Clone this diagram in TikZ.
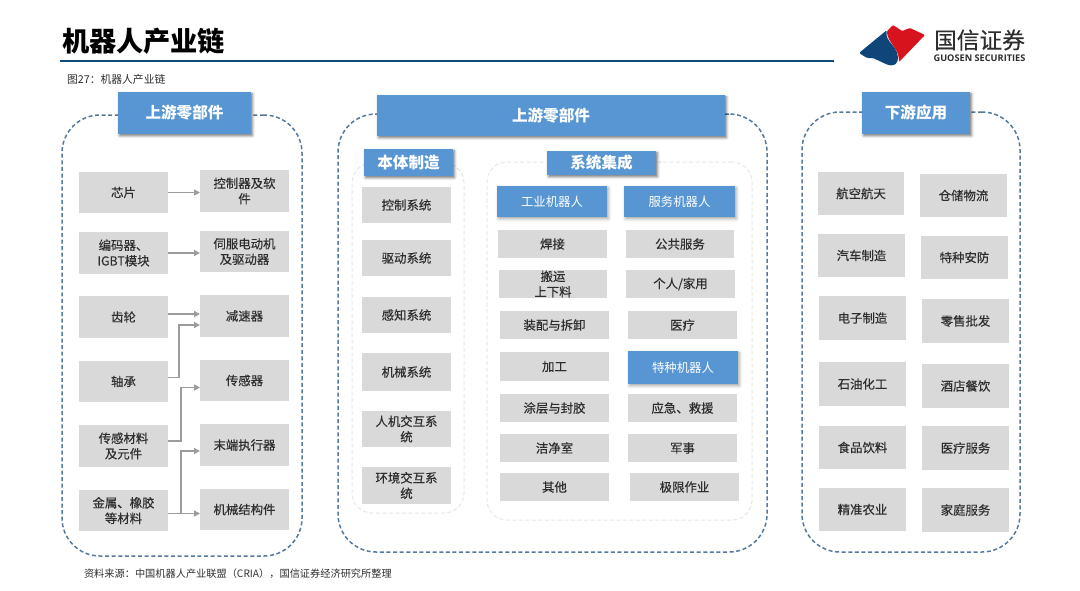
\documentclass[tikz,border=0pt]{standalone}
\usepackage{fontspec}
\setmainfont{Noto Sans CJK SC}
\newfontfamily\cjkheavy[FakeBold=0.35]{Noto Sans CJK SC}
\newfontfamily\latinbold{Open Sans}
\usetikzlibrary{arrows.meta,calc,shadows.blur}
\definecolor{boxgray}{HTML}{D9D9D9}
\definecolor{headblue}{HTML}{5796D3}
\definecolor{dashblue}{HTML}{557A9C}
\definecolor{innerdash}{HTML}{E6E6E6}
\definecolor{txt}{HTML}{2E2E2E}
\definecolor{navy}{HTML}{0F4C7A}
\definecolor{logored}{HTML}{D7141E}
\definecolor{logoblue}{HTML}{0F4578}
\definecolor{conn}{HTML}{9C9C9C}
\tikzset{
  base/.style={inner sep=0pt,outer sep=0pt,align=center},
  gbox/.style={base,fill=boxgray,text=txt,font=\fontsize{12.4}{15.5}\cjkheavy},
  hbig/.style={base,fill=headblue,text=white,font=\fontsize{15.6}{18}\selectfont\bfseries,
     blur shadow={shadow xshift=1.5pt,shadow yshift=-1.8pt,shadow blur radius=2.5pt,shadow opacity=55}},
  hsub/.style={base,fill=headblue,text=white,font=\fontsize{12.4}{15}\selectfont,
     blur shadow={shadow xshift=1.5pt,shadow yshift=-1.8pt,shadow blur radius=3pt,shadow opacity=35}},
  panel/.style={base,draw=dashblue,line width=1.5pt,dash pattern=on 4pt off 2.6pt,rounded corners=38pt},
  inner/.style={base,draw=innerdash,line width=1pt,dash pattern=on 4pt off 2.5pt,rounded corners=20pt},
  link/.style={draw=conn,line width=1.5pt,-{Triangle[length=6pt,width=6pt]}},
  label/.style={inner sep=0pt,outer sep=0pt,anchor=west},
}
\newcommand{\bx}[7]{%
  \pgfmathsetmacro{\cxv}{(#3+#5)/2}\pgfmathsetmacro{\cyv}{(#4+#6)/2}%
  \pgfmathsetmacro{\wv}{#5-#3}\pgfmathsetmacro{\hv}{#6-#4}%
  \node[#1,minimum width=\wv pt,minimum height=\hv pt] (#2) at (\cxv,\cyv) {#7};}
\begin{document}
\begin{tikzpicture}[x=1pt,y=-1pt]
\useasboundingbox (0,0) rectangle (1080,590);
% header
\node[label,text=black,font=\fontsize{27.2}{30}\selectfont\bfseries] (title) at (62,41) {机器人产业链};
\coordinate (ruleL) at (60,61);
\coordinate (ruleR) at (834,61);
\draw[navy,line width=2.8pt] (ruleL) -- (ruleR);
\node[label,text=txt,font=\fontsize{10.8}{12}\selectfont] (fig) at (67,79) {图27：机器人产业链};
\node[label,text=txt,font=\fontsize{10.2}{12}\selectfont] (src) at (84,574) {资料来源：中国机器人产业联盟（CRIA），国信证券经济研究所整理};
% logo
\fill[logoblue,rounded corners=1.5pt] (859,53) -- (887,30) .. controls (884,42) and (901,47) .. (897,63) -- (893,65.5) -- (888,65) -- (873,58) -- (867,58) -- cycle;
\fill[logored,rounded corners=1pt] (893,25) -- (902,31) -- (910,28) -- (925,35) -- (899,62) .. controls (899,48) and (887,42) .. (887,31) -- cycle;
\node[text=txt,inner sep=0pt,font=\fontsize{22.7}{24}\cjkheavy] (lg1) at (979.5,40) {国信证券};
\node[text=txt,inner sep=0pt,font=\fontsize{9.2}{10}\latinbold\bfseries] (lg2) at (979.5,58.5) {GUOSEN SECURITIES};
% panels
\bx{panel}{pL}{62}{115}{302}{556}{}
\bx{panel}{pC}{338}{114}{767}{552}{}
\bx{panel}{pR}{802}{112}{1020}{552}{}
\bx{inner}{inA}{352}{163}{464}{513}{}
\bx{inner}{inB}{487}{162}{752}{520}{}
% headers
\bx{hbig}{hL}{118}{92}{251}{134}{上游零部件}
\bx{hbig}{hC}{377}{95}{725}{136}{上游零部件}
\bx{hbig}{hR}{862}{92}{970}{134}{下游应用}
\bx{hbig}{hA}{364}{149}{453}{176}{本体制造}
\bx{hbig}{hB}{547}{151}{656}{175}{系统集成}
% left panel
\bx{gbox}{a1}{79}{172}{168}{213}{芯片}
\bx{gbox}{b1}{200}{170}{289}{212}{控制器及软\\件}
\bx{gbox}{a2}{79}{232}{168}{274}{编码器、\\IGBT模块}
\bx{gbox}{b2}{200}{231}{289}{272}{伺服电动机\\及驱动器}
\bx{gbox}{a3}{79}{296}{168}{338}{齿轮}
\bx{gbox}{b3}{200}{295}{289}{337}{减速器}
\bx{gbox}{a4}{79}{361}{168}{402}{轴承}
\bx{gbox}{b4}{200}{360}{289}{401}{传感器}
\bx{gbox}{a5}{79}{425}{168}{467}{传感材料\\及元件}
\bx{gbox}{b5}{200}{424}{289}{466}{末端执行器}
\bx{gbox}{a6}{79}{490}{168}{531}{金属、橡胶\\等材料}
\bx{gbox}{b6}{200}{489}{289}{530}{机械结构件}
% connectors
\draw[link] (a1.east) -- (b1.west |- a1.east);
\draw[link] (a2.east) -- (b2.west |- a2.east);
\coordinate (t3) at ($(b3.west)+(0,-2)$);
\coordinate (t3b) at ($(b3.west)+(0,9)$);
\coordinate (s3) at (a3.east |- t3);
\coordinate (s4) at ($(a4.east)+(0,-4)$);
\coordinate (s5) at ($(a5.east)+(0,-5)$);
\coordinate (s6) at ($(a6.east)+(0,3)$);
\coordinate (t4) at ($(b4.west)+(0,7)$);
\coordinate (t5) at ($(b5.west)+(0,6)$);
\coordinate (t6) at (b6.west |- s6);
\draw[link] (s3) -- (t3);
\draw[link] (s4) -- ++(11,0) |- (t3b);
\draw[link] (s5) -- ++(13,0) |- (t4);
\draw[link] (s6) -- ++(13,0) |- (t5);
\draw[link] (s6) -- (t6);
% body column
\bx{gbox}{c1}{362}{187}{451}{223}{控制系统}
\bx{gbox}{c2}{362}{240}{451}{276}{驱动系统}
\bx{gbox}{c3}{362}{297}{451}{333}{感知系统}
\bx{gbox}{c4}{362}{353}{451}{391}{机械系统}
\bx{gbox}{c5}{362}{411}{451}{447}{人机交互系\\统}
\bx{gbox}{c6}{362}{467}{451}{504}{环境交互系\\统}
% integration columns
\bx{hsub}{d0}{497}{186}{607}{217}{工业机器人}
\bx{hsub}{e0}{624}{186}{735}{217}{服务机器人}
\bx{gbox}{d1}{498}{230}{607}{258}{焊接}
\bx{gbox}{e1}{626}{230}{734}{258}{公共服务}
\bx{gbox}{d2}{499}{270}{607}{298}{搬运\\上下料}
\bx{gbox}{e2}{626}{270}{735}{298}{个人/家用}
\bx{gbox}{d3}{500}{311}{609}{339}{装配与拆卸}
\bx{gbox}{e3}{628}{311}{737}{339}{医疗}
\bx{gbox}{d4}{500}{352}{609}{381}{加工}
\bx{hsub}{e4}{628}{351}{738}{384}{特种机器人}
\bx{gbox}{d5}{500}{394}{609}{422}{涂层与封胶}
\bx{gbox}{e5}{628}{394}{737}{422}{应急、救援}
\bx{gbox}{d6}{500}{434}{609}{462}{洁净室}
\bx{gbox}{e6}{628}{434}{737}{462}{军事}
\bx{gbox}{d7}{500}{473}{609}{501}{其他}
\bx{gbox}{e7}{630}{473}{739}{501}{极限作业}
% downstream
\bx{gbox}{f1}{818}{172}{904}{215}{航空航天}
\bx{gbox}{g1}{920}{174}{1007}{217}{仓储物流}
\bx{gbox}{f2}{818}{234}{905}{277}{汽车制造}
\bx{gbox}{g2}{921}{236}{1008}{279}{特种安防}
\bx{gbox}{f3}{819}{296}{906}{340}{电子制造}
\bx{gbox}{g3}{922}{299}{1009}{343}{零售批发}
\bx{gbox}{f4}{819}{362}{906}{406}{石油化工}
\bx{gbox}{g4}{922}{364}{1009}{408}{酒店餐饮}
\bx{gbox}{f5}{819}{426}{906}{469}{食品饮料}
\bx{gbox}{g5}{922}{426}{1009}{470}{医疗服务}
\bx{gbox}{f6}{819}{488}{906}{531}{精准农业}
\bx{gbox}{g6}{922}{488}{1009}{532}{家庭服务}
\end{tikzpicture}
\end{document}
